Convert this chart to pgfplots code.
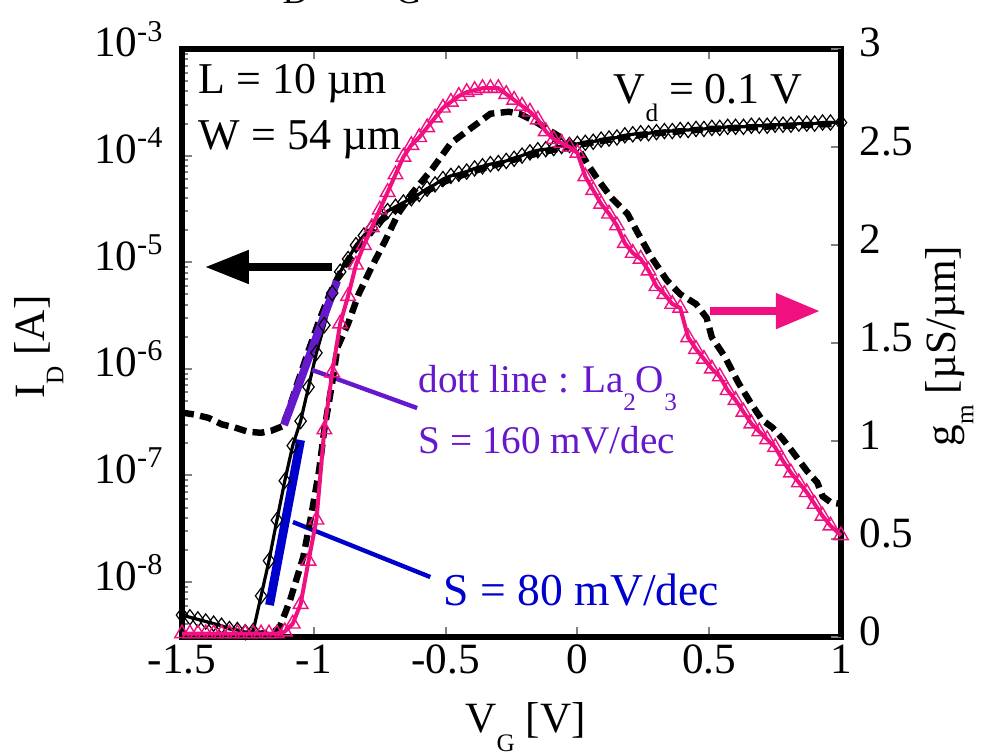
\documentclass[border=0pt]{standalone}
\usepackage{fontspec}
\setmainfont{Liberation Serif}
\usepackage{pgfplots}
\pgfplotsset{compat=1.18}
\usepackage{pgfplotstable}
\usetikzlibrary{arrows.meta}

\definecolor{gmpink}{RGB}{240,16,128}
\definecolor{lapurple}{RGB}{102,24,204}
\definecolor{sblue}{RGB}{0,0,204}
\newcommand\sub[1]{\raisebox{-4.6pt}{\fontsize{6.3}{7}\selectfont #1}}

% I_D, stored as log10(I_D [A])
\pgfplotstableread{
x logI
-1.50 -8.31
-1.47 -8.33
-1.44 -8.35
-1.41 -8.37
-1.38 -8.39
-1.35 -8.41
-1.32 -8.44
-1.29 -8.45
-1.26 -8.47
-1.23 -8.46
-1.20 -8.13
-1.17 -7.80
-1.14 -7.42
-1.11 -7.05
-1.08 -6.72
-1.05 -6.49
-1.02 -6.17
-0.99 -5.85
-0.96 -5.59
-0.93 -5.29
-0.90 -5.09
-0.87 -4.97
-0.84 -4.84
-0.81 -4.75
-0.78 -4.68
-0.75 -4.60
-0.72 -4.52
-0.69 -4.48
-0.66 -4.44
-0.63 -4.40
-0.60 -4.36
-0.57 -4.31
-0.54 -4.27
-0.51 -4.22
-0.48 -4.19
-0.45 -4.17
-0.42 -4.15
-0.39 -4.12
-0.36 -4.10
-0.33 -4.08
-0.30 -4.07
-0.27 -4.05
-0.24 -4.03
-0.21 -4.00
-0.18 -3.97
-0.15 -3.95
-0.12 -3.94
-0.09 -3.93
-0.06 -3.91
-0.03 -3.90
0.00 -3.89
0.03 -3.88
0.06 -3.87
0.09 -3.85
0.12 -3.84
0.15 -3.83
0.18 -3.81
0.21 -3.80
0.24 -3.79
0.27 -3.79
0.30 -3.78
0.33 -3.77
0.36 -3.77
0.39 -3.76
0.42 -3.76
0.45 -3.75
0.48 -3.75
0.51 -3.74
0.54 -3.74
0.57 -3.73
0.60 -3.73
0.63 -3.73
0.66 -3.72
0.69 -3.72
0.72 -3.72
0.75 -3.71
0.78 -3.71
0.81 -3.71
0.84 -3.70
0.87 -3.70
0.90 -3.70
0.93 -3.69
0.96 -3.69
1.00 -3.69
}\idmain

% La2O3 I_D (dashed), log10
\pgfplotstableread{
x logI
-1.50 -6.41
-1.45 -6.43
-1.40 -6.46
-1.35 -6.52
-1.30 -6.55
-1.25 -6.59
-1.20 -6.60
-1.16 -6.58
-1.12 -6.54
-1.10 -6.42
-1.06 -6.12
-1.02 -5.83
-0.98 -5.55
-0.94 -5.30
-0.90 -5.10
-0.85 -4.90
-0.80 -4.75
-0.75 -4.62
-0.70 -4.52
-0.60 -4.37
-0.50 -4.24
-0.40 -4.15
-0.30 -4.08
-0.20 -4.01
-0.10 -3.95
0.00 -3.90
0.10 -3.86
0.20 -3.82
0.30 -3.79
0.40 -3.77
0.50 -3.75
0.60 -3.74
0.70 -3.73
0.80 -3.72
0.90 -3.71
1.00 -3.70
}\idla

% g_m [uS/um]
\pgfplotstableread{
x gm
-1.50 0.02
-1.47 0.02
-1.44 0.02
-1.41 0.02
-1.38 0.02
-1.35 0.02
-1.32 0.02
-1.29 0.02
-1.26 0.02
-1.23 0.02
-1.20 0.02
-1.17 0.02
-1.14 0.02
-1.11 0.03
-1.08 0.07
-1.05 0.17
-1.02 0.39
-0.99 0.60
-0.96 1.06
-0.93 1.35
-0.90 1.60
-0.87 1.74
-0.84 1.90
-0.81 2.00
-0.78 2.09
-0.75 2.18
-0.72 2.27
-0.69 2.36
-0.66 2.45
-0.63 2.51
-0.60 2.55
-0.57 2.60
-0.54 2.65
-0.51 2.70
-0.48 2.73
-0.45 2.76
-0.42 2.78
-0.39 2.79
-0.36 2.80
-0.33 2.80
-0.30 2.80
-0.27 2.77
-0.24 2.74
-0.21 2.71
-0.18 2.68
-0.15 2.64
-0.12 2.58
-0.09 2.54
-0.06 2.52
-0.03 2.50
0.00 2.47
0.03 2.35
0.06 2.28
0.09 2.21
0.12 2.16
0.15 2.10
0.18 2.01
0.21 1.96
0.24 1.93
0.27 1.87
0.30 1.79
0.33 1.75
0.36 1.70
0.39 1.68
0.42 1.53
0.45 1.47
0.48 1.42
0.51 1.37
0.54 1.33
0.57 1.26
0.60 1.21
0.63 1.15
0.66 1.09
0.69 1.05
0.72 1.01
0.75 0.97
0.78 0.90
0.81 0.84
0.84 0.79
0.87 0.74
0.90 0.68
0.93 0.62
0.96 0.57
1.00 0.52
}\gmmain

% La2O3 g_m (dashed)
\pgfplotstableread{
x gm
-1.50 0.01
-1.40 0.01
-1.30 0.01
-1.20 0.02
-1.15 0.03
-1.13 0.05
-1.09 0.19
-1.04 0.41
-1.01 0.62
-0.98 0.85
-0.96 1.06
-0.93 1.30
-0.91 1.48
-0.87 1.60
-0.83 1.75
-0.78 1.89
-0.73 2.02
-0.68 2.16
-0.63 2.26
-0.55 2.39
-0.48 2.52
-0.40 2.60
-0.33 2.67
-0.26 2.68
-0.22 2.67
-0.16 2.63
-0.10 2.58
-0.04 2.53
0.00 2.50
0.04 2.41
0.08 2.33
0.13 2.24
0.19 2.16
0.23 2.06
0.28 1.94
0.34 1.82
0.39 1.75
0.45 1.70
0.49 1.63
0.51 1.53
0.56 1.43
0.61 1.30
0.66 1.19
0.70 1.11
0.74 1.07
0.78 1.01
0.82 0.94
0.87 0.85
0.91 0.79
0.93 0.72
0.96 0.69
1.00 0.68
}\gmla

\pgfplotsset{
  common/.style={
    width=164.75pt, height=147.125pt, scale only axis,
    xmin=-1.5, xmax=1,
    axis line style={line width=1.5pt},
    tick style={gray, line width=0.5pt},
    major tick length=2.6pt, minor tick length=1.6pt,
    tick align=inside, clip=false,
  },
}

\begin{document}
\fontsize{10.8}{13}\selectfont
\begin{tikzpicture}
\begin{axis}[common, name=ax,
  ymin=-8.52, ymax=-3,
  xtick={-1.5,-1,-0.5,0,0.5,1},
  xticklabels={-1.5,-1,-0.5,0,0.5,1},
  xtick pos=both,
  xticklabel style={anchor=base, yshift=-8.9pt},
  ytick={-8,-7,-6,-5,-4,-3},
  yticklabels={10\textsuperscript{-8},10\textsuperscript{-7},10\textsuperscript{-6},10\textsuperscript{-5},10\textsuperscript{-4},10\textsuperscript{-3}},
  minor ytick={-8.398,-8.301,-8.222,-8.155,-8.097,-8.046,
    -7.699,-7.523,-7.398,-7.301,-7.222,-7.155,-7.097,-7.046,
    -6.699,-6.523,-6.398,-6.301,-6.222,-6.155,-6.097,-6.046,
    -5.699,-5.523,-5.398,-5.301,-5.222,-5.155,-5.097,-5.046,
    -4.699,-4.523,-4.398,-4.301,-4.222,-4.155,-4.097,-4.046,
    -3.699,-3.523,-3.398,-3.301,-3.222,-3.155,-3.097,-3.046},
  ytick pos=left,
  yticklabel style={anchor=base east, yshift=-2pt, xshift=-0.6pt},
]
  \addplot[black, line width=1.6pt, dash pattern=on 3pt off 1.6pt] table[x=x, y=logI] {\idla};
  \addplot[black, line width=0.8pt, mark=diamond, mark size=1.9pt,
    mark options={solid, line width=0.3pt}] table[x=x, y=logI] {\idmain};

  % subthreshold slope guides
  \draw[lapurple, line width=2pt] (axis cs:-1.113,-6.527) -- (axis cs:-0.912,-5.176);
  \draw[lapurple, line width=1.1pt] (axis cs:-1.006,-6.011) -- (axis cs:-0.608,-6.368);
  \draw[sblue, line width=2.2pt] (axis cs:-1.168,-8.216) -- (axis cs:-1.050,-6.668);
  \draw[sblue, line width=1.1pt] (axis cs:-1.079,-7.437) -- (axis cs:-0.558,-7.953);
  \draw[black, line width=2pt, -{Triangle[length=11pt, width=8pt]}]
    (axis cs:-0.931,-5.045) -- (axis cs:-1.413,-5.045);

  \node[anchor=base west, inner sep=0pt, font=\fontsize{11}{13}\selectfont] at (axis description cs:0.0243,0.925) {L = 10 µm};
  \node[anchor=base west, inner sep=0pt, font=\fontsize{11}{13}\selectfont] at (axis description cs:0.0243,0.829) {W = 54 µm};
  \node[anchor=base west, inner sep=0pt, font=\fontsize{11}{13}\selectfont] at (axis description cs:0.654,0.908) {V\sub{d} = 0.1 V};
  \node[anchor=base west, inner sep=0pt, text=lapurple, font=\fontsize{9.8}{12}\selectfont] at (axis description cs:0.358,0.417) {dott line : La\sub{2}O\sub{3}};
  \node[anchor=base west, inner sep=0pt, text=lapurple, font=\fontsize{9.8}{12}\selectfont] at (axis description cs:0.358,0.313) {S = 160 mV/dec};
  \node[anchor=base west, inner sep=0pt, text=sblue, font=\fontsize{11.4}{13}\selectfont] at (axis description cs:0.396,0.055) {S = 80 mV/dec};

  \node[anchor=base west, inner sep=0pt] at (axis description cs:0.429,-0.162) {V\sub{G} [V]};
  \node[anchor=base west, inner sep=0pt, rotate=90] at (axis description cs:-0.208,0.404) {I\sub{D} [A]};
  \node[anchor=base west, inner sep=0pt, font=\fontsize{14}{16}\selectfont] at (axis description cs:0.123,1.118)
    {I\raisebox{-6pt}{\fontsize{9}{10}\selectfont D} - V\raisebox{-6pt}{\fontsize{9}{10}\selectfont G}};
\end{axis}

\begin{axis}[common,
  ymin=0, ymax=3,
  axis x line=none,
  axis y line*=right,
  y axis line style={-},
  ytick={0,0.5,1,1.5,2,2.5,3},
  yticklabels={0,0.5,1,1.5,2,2.5,3},
  yticklabel style={anchor=base west, yshift=-2pt, xshift=0.8pt},
]
  \addplot[black, line width=1.6pt, dash pattern=on 3pt off 1.6pt] table[x=x, y=gm] {\gmla};
  \addplot[gmpink, line width=1pt, mark=triangle, mark size=2.1pt,
    mark options={solid, line width=0.35pt}] table[x=x, y=gm] {\gmmain};

  \draw[gmpink, line width=2pt, -{Triangle[length=11pt, width=8.5pt]}]
    (axis cs:0.503,1.664) -- (axis cs:0.92,1.664);

  \node[anchor=base west, inner sep=0pt, rotate=90] at (axis description cs:1.173,0.324) {g\sub{m} [µS/µm]};
\end{axis}

\pgfresetboundingbox
\useasboundingbox ([xshift=-45.5pt,yshift=-29.125pt]ax.south west) rectangle ([xshift=35.25pt,yshift=12.25pt]ax.north east);
\end{tikzpicture}
\end{document}
